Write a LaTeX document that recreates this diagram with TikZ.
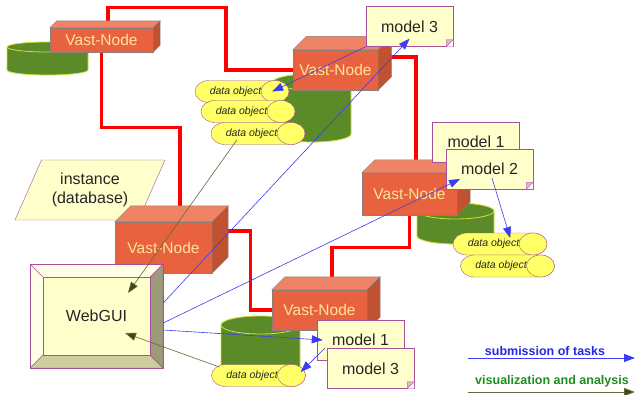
\documentclass[tikz,border=0pt]{standalone}
\usepackage{fontspec}
\setmainfont{Liberation Sans}
\usetikzlibrary{arrows.meta,shapes.geometric,backgrounds}
\definecolor{vastfront}{HTML}{E9623F}
\definecolor{vasttop}{HTML}{EF8366}
\definecolor{vastside}{HTML}{C05232}
\definecolor{vastedge}{HTML}{8C7D78}
\definecolor{vasttext}{HTML}{FFE596}
\definecolor{notefill}{HTML}{FFFFCC}
\definecolor{noteline}{HTML}{A8509A}
\definecolor{foldfill}{HTML}{E8B0CC}
\definecolor{objfill}{HTML}{FFFF66}
\definecolor{objline}{HTML}{A85A8A}
\definecolor{dbgreen}{HTML}{5B8A28}
\definecolor{dbline}{HTML}{D2DC3A}
\definecolor{taskblue}{HTML}{3C3CF0}
\definecolor{visolive}{HTML}{66663A}
\definecolor{visdark}{HTML}{3A4A12}
\definecolor{legblue}{HTML}{2626E8}
\definecolor{leggreen}{HTML}{1E8C1E}
\definecolor{bevlight}{HTML}{FFFFE6}
\definecolor{bevdark}{HTML}{9B9B7B}
\definecolor{bevbottom}{HTML}{CDCD9E}

% top and right face of a vast node
\newcommand{\vastfaces}[2]{%
  \filldraw[fill=vasttop,draw=vastedge,thin] (#1.north west) -- ++(#2,-#2) -- ([shift={(#2,-#2)}]#1.north east) -- (#1.north east) -- cycle;
  \filldraw[fill=vastside,draw=vastedge,thin] (#1.north east) -- ++(#2,-#2) -- ([shift={(#2,-#2)}]#1.south east) -- (#1.south east) -- cycle;}
% green storage disk: cx, ytop, ybottom, rx, ry
\newcommand{\dbdisk}[5]{%
  \filldraw[fill=dbgreen,draw=dbline,thick] (#1-#4,#2) -- (#1-#4,#3) arc[start angle=180,end angle=0,x radius=#4,y radius=#5] -- (#1+#4,#2) -- cycle;
  \filldraw[fill=dbgreen,draw=dbline,thick] (#1,#2) ellipse[x radius=#4,y radius=#5];}
% lying data object: name, cx, cy
\newcommand{\dataobj}[3]{%
  \filldraw[fill=objfill,draw=objline] (#2+33,#3-11) -- (#2-33,#3-11) arc[start angle=270,end angle=90,x radius=14,y radius=11] -- (#2+33,#3+11) arc[start angle=90,end angle=-90,x radius=14,y radius=11] -- cycle;
  \filldraw[fill=objfill,draw=objline] (#2+33,#3) ellipse[x radius=14,y radius=11];
  \node[obj] (#1) at (#2,#3) {data object\hspace*{13pt}};}
% folded corner of a note
\newcommand{\notefold}[1]{%
  \fill[white] (#1.south east) -- ([xshift=-7pt]#1.south east) -- ([yshift=7pt]#1.south east) -- cycle;
  \filldraw[fill=foldfill,draw=noteline,thin] ([xshift=-7pt]#1.south east) -- ([yshift=7pt]#1.south east) -- ([shift={(-7,-7)}]#1.south east) -- cycle;}

\begin{document}
\begin{tikzpicture}[x=1pt,y=-1pt,
  vast/.style={draw=vastedge,fill=vastfront,text=vasttext,font=\fontsize{15.5}{18}\selectfont,inner sep=0pt},
  note/.style={draw=noteline,fill=notefill,minimum width=87pt,minimum height=40pt,inner sep=0pt,text=black!85,font=\fontsize{16}{19}\selectfont},
  obj/.style={minimum width=94pt,minimum height=22pt,inner sep=0pt,text=black!85,font=\fontsize{10.5}{12}\selectfont\itshape},
  inst/.style={trapezium,trapezium left angle=58,trapezium right angle=122,trapezium stretches=true,minimum width=150pt,minimum height=60pt,draw=noteline,fill=notefill,align=center,inner sep=0pt,text=black!85,font=\fontsize{16}{18.5}\selectfont},
  gui/.style={draw=noteline,fill=bevlight,minimum width=133pt,minimum height=104pt,text=black!85,font=\fontsize{16}{19}\selectfont,
    path picture={
      \path (path picture bounding box.north west) coordinate (gnw) (path picture bounding box.north east) coordinate (gne)
            (path picture bounding box.south west) coordinate (gsw) (path picture bounding box.south east) coordinate (gse);
      \filldraw[fill=bevbottom,draw=noteline,thin] (gsw) -- (gse) -- ++(-13,-13) -- ([shift={(13,-13)}]gsw) -- cycle;
      \filldraw[fill=bevdark,draw=noteline,thin] (gne) -- (gse) -- ++(-13,-13) -- ([shift={(-13,13)}]gne) -- cycle;
      \draw[noteline,thin] (gnw) -- ++(13,13);
      \filldraw[fill=notefill,draw=noteline,thin] ([shift={(13,13)}]gnw) rectangle ([shift={(-13,-13)}]gse);}},
  link/.style={draw=red,line width=3.3pt},
  task/.style={draw=taskblue,line width=0.6pt,-{Triangle[length=11pt,width=8pt]}},
  vis/.style={draw=visolive,line width=0.6pt,-{Triangle[length=11pt,width=8pt,fill=visdark]}},
  legtask/.style={text=legblue,font=\fontsize{12.5}{15}\selectfont\bfseries},
  legvis/.style={text=leggreen,font=\fontsize{12.5}{15}\selectfont\bfseries}
]
\useasboundingbox (0,0) rectangle (635,394);

\dbdisk{47.5}{47}{70}{40.5}{5}
\dbdisk{312}{82}{134}{39}{8}
\dbdisk{455.5}{211}{236}{38.5}{8}
\dbdisk{260.5}{325}{372}{39.5}{9}

\node[inst] (db) at (90,190) {instance\\(database)};

\node[vast,minimum width=103pt,minimum height=24pt] (vn1) at (101.5,40) {Vast-Node};
\vastfaces{vn1}{7}
\node[vast,minimum width=85pt,minimum height=40pt] (vn2) at (335.5,70) {Vast-Node};
\vastfaces{vn2}{13.5}
\node[vast,minimum width=97pt,minimum height=51pt] (vn3) at (163.5,247.5) {Vast-Node};
\vastfaces{vn3}{16}
\node[vast,minimum width=95pt,minimum height=42pt] (vn4) at (409.5,194) {Vast-Node};
\vastfaces{vn4}{13}
\node[vast,minimum width=95pt,minimum height=40pt] (vn5) at (319.5,310) {Vast-Node};
\vastfaces{vn5}{13}

\begin{scope}[on background layer]
\draw[link] ([xshift=6.5pt]vn1.north) -- ++(0,-20) -- ++(118,0) |- (vn2.west);
\draw[link] (vn1.south) -- ++(0,75) -| ([xshift=16.5pt]vn3.north);
\draw[link] ([yshift=13pt]vn2.east) -| ([xshift=6.5pt]vn4.north);
\draw[link] (vn4.south) -- ++(0,32) -| ([xshift=12.5pt]vn5.north);
\draw[link] ([yshift=16.5pt]vn3.east) -- ++(38,0) |- (vn5.west);
\end{scope}

\dataobj{d1}{242}{91.5}
\dataobj{d2}{248}{111.5}
\dataobj{d3}{258}{133.5}
\dataobj{d4}{500}{244}
\dataobj{d5}{507.5}{266}
\dataobj{d6}{258.5}{375.5}

\node[gui] (gui) at (96.5,316) {WebGUI};

\node[note] (m3a) at (409.5,26.5) {model 3};
\notefold{m3a}
\node[note] (m1a) at (476,142) {model 1};
\notefold{m1a}
\node[note] (m2a) at (489.5,169) {model 2};
\notefold{m2a}
\node[note] (m1b) at (360.5,340) {model 1};
\notefold{m1b}
\node[note] (m3b) at (370.5,368.5) {model 3};
\notefold{m3b}

\draw[task] ([yshift=13pt]gui.east) -- ([yshift=8pt]m3a.south);
\draw[task] ([yshift=-7pt]gui.east) -- ([shift={(-29.5,10)}]m2a.center);
\draw[task] ([yshift=-14pt]gui.east) -- ([xshift=6pt]m1b.west);
\draw[task] (m3a.south west) -- ([xshift=-17pt]d1.east);
\draw[task] ([shift={(2.5,9)}]m2a.center) -- ([shift={(-37,-6)}]d4.east);
\draw[task] ([shift={(-35.5,8)}]m1b.center) -- ([shift={(-5,-3.5)}]d6.east);
\draw[vis] ([shift={(26,6.5)}]d3.west) -- ([shift={(31.5,-23)}]gui.center);
\draw[vis] ([shift={(8,-8.5)}]d6.west) -- ([shift={(28.5,17)}]gui.center);

\node[legtask] (legt) at (545,351) {submission of tasks};
\coordinate (legta) at (468,358);
\coordinate (legtb) at (635,358);
\draw[task,line width=0.9pt] (legta) -- (legtb);
\node[legvis] (legv) at (552,381) {visualization and analysis};
\coordinate (legva) at (468,392);
\coordinate (legvb) at (635,392);
\draw[vis,line width=0.9pt] (legva) -- (legvb);
\end{tikzpicture}
\end{document}
